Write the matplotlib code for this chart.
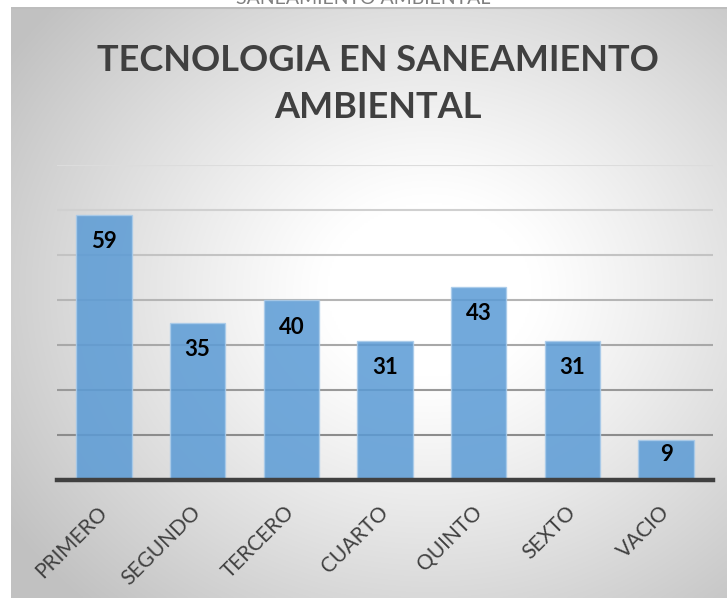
import numpy as np
import matplotlib
matplotlib.use("Agg")
import matplotlib.pyplot as plt

categories = ["PRIMERO", "SEGUNDO", "TERCERO", "CUARTO", "QUINTO", "SEXTO", "VACIO"]
values = [59, 35, 40, 31, 43, 31, 9]
grid_levels = [10, 20, 30, 40, 50, 60, 70]
title_text = "TECNOLOGIA EN SANEAMIENTO\nAMBIENTAL"
cut_text = "SANEAMIENTO AMBIENTAL"

plt.rcParams['font.family'] = ['Lato', 'DejaVu Sans']

W, H = 727, 598
fig = plt.figure(figsize=(W / 100, H / 100), dpi=100)
fig.patch.set_facecolor("white")

# background gradient panel
bx0, by0 = 11, 7
bgax = fig.add_axes([bx0 / W, 0, (W - bx0) / W, (H - by0) / H])
bgax.set_zorder(-10)
nx, ny = 360, 300
xs = np.linspace(bx0, W, nx)
ys = np.linspace(by0, H, ny)
X, Y = np.meshgrid(xs, ys)
cx, cy = 430, 290
rx, ry = 470, 400
r = np.sqrt(((X - cx) / rx) ** 2 + ((Y - cy) / ry) ** 2)
g = np.clip((r - 0.22) / 0.85, 0, 1)
val = 1.0 - 0.24 * g ** 1.1
img = np.dstack([val, val, val])
bgax.imshow(img, extent=[bx0, W, H, by0], aspect="auto", interpolation="bilinear")
bgax.plot([bx0, W], [by0 + 0.5, by0 + 0.5], color="#bdbdbd", lw=1.5)
bgax.set_xlim(bx0, W)
bgax.set_ylim(H, by0)
bgax.axis("off")

# cut text at the very top (partly outside the image, as in the reference)
fig.text(363 / W, 1.0 + 2 / H, cut_text, ha="center", va="center",
         fontsize=14, color="#7f7f7f")

# main axes
ax_left, ax_right = 57, 713
ax_top, ax_bottom = 165, 480
ax = fig.add_axes([ax_left / W, (H - ax_bottom) / H,
                   (ax_right - ax_left) / W, (ax_bottom - ax_top) / H])
ax.set_facecolor("none")
ax.set_xlim(-0.5, len(categories) - 0.5)
ax.set_ylim(0, 70)

grid_colors = ["#8c8c8c", "#999999", "#a8a8a8", "#b5b5b5", "#c3c3c3", "#d0d0d0", "#dcdcdc"]
for lvl, c in zip(grid_levels, grid_colors):
    ax.axhline(lvl, color=c, lw=1.5, zorder=1)

x = np.arange(len(categories))
ax.bar(x, values, width=0.59, color="#5B9BD5", alpha=0.86,
       edgecolor="#a9cbea", linewidth=1.0, zorder=2)

fig.canvas.draw()
for i, v in enumerate(values):
    hpx = ax.transData.transform((0, v))[1] - ax.transData.transform((0, 0))[1]
    off = 27 if hpx > 60 else hpx * 0.37
    ax.annotate(str(v), xy=(i, v), xytext=(0, -off), textcoords="offset pixels",
                ha="center", va="center", fontsize=16, fontweight="bold",
                color="black", zorder=4)

for s in ["top", "right", "left"]:
    ax.spines[s].set_visible(False)
ax.spines["bottom"].set_color("#404040")
ax.spines["bottom"].set_linewidth(3.2)
ax.spines["bottom"].set_zorder(3)
ax.set_yticks([])
ax.set_xticks(x)
ax.set_xticklabels(categories, rotation=45, ha="right", va="center",
                   rotation_mode="anchor", fontsize=15, color="#404040")
ax.tick_params(axis="x", length=0, pad=21)

fig.text(378 / W, 1 - 84 / H, title_text, ha="center", va="center",
         fontsize=26, fontweight="bold", color="#404040", linespacing=1.55)

fig.savefig("out.png", dpi=100)
